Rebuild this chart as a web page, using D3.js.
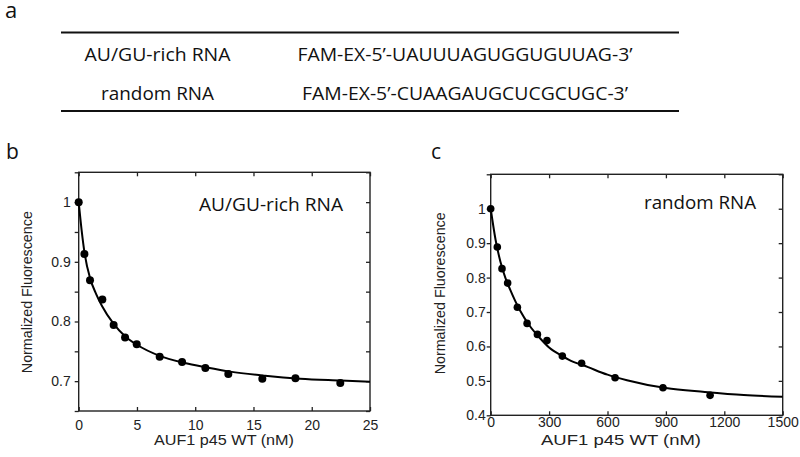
<!DOCTYPE html>
<html lang="en">
<head>
    <meta charset="UTF-8">
    <title>AUF1 p45 binding</title>
    <script src="https://d3js.org/d3.v7.min.js"></script>
    <style>
        body {
            margin: 0;
            padding: 0;
            background: #fff;
        }
        .tick text {
            font-family: "Liberation Sans", Arial, sans-serif;
            font-size: 14px;
            fill: #222;
        }
        .tick line {
            stroke: #222;
            stroke-width: 1.3;
        }
        .calib {
            font-family: "Open Sans", "Noto Sans", sans-serif;
            fill: #111;
        }
        .arial {
            font-family: "Liberation Sans", Arial, sans-serif;
            fill: #222;
        }
    </style>
</head>
<body>
    <div id="chart"></div>
    <script>
        // Table (panel a)
        const rnaNames = ["AU/GU-rich RNA", "random RNA"];
        const rnaSeqs = ["FAM-EX-5’-UAUUUAGUGGUGUUAG-3’", "FAM-EX-5’-CUAAGAUGCUCGCUGC-3’"];

        // Panel b: AU/GU-rich RNA
        const auguConc = [0, 0.49, 0.97, 2.03, 3.0, 3.98, 4.98, 6.95, 8.87, 10.87, 12.84, 15.76, 18.6, 22.45];
        const auguFluor = [1.0, 0.913, 0.869, 0.837, 0.794, 0.773, 0.762, 0.741, 0.732, 0.722, 0.712, 0.704, 0.705, 0.697];
        const auguFitX = [0, 0.25, 0.5, 1, 1.5, 2, 3, 4, 5, 7, 9, 11, 13, 16, 19, 22.5, 25];
        const auguFitY = [1.0, 0.953, 0.915, 0.871, 0.846, 0.826, 0.796, 0.775, 0.761, 0.742, 0.731, 0.723, 0.716, 0.709, 0.704, 0.701, 0.699];
        const auguYTicks = [0.65, 0.7, 0.75, 0.8, 0.85, 0.9, 0.95, 1.0, 1.05];
        const auguYLabels = [0.7, 0.8, 0.9, 1];
        const auguXTicks = [0, 5, 10, 15, 20, 25];

        // Panel c: random RNA
        const randConc = [0, 34, 58, 87, 137, 187, 240, 289, 368, 467, 639, 885, 1127];
        const randFluor = [1.0, 0.889, 0.826, 0.784, 0.714, 0.667, 0.635, 0.617, 0.572, 0.551, 0.509, 0.480, 0.458];
        const randFitX = [0, 25, 50, 75, 100, 150, 200, 250, 300, 368, 400, 500, 600, 700, 900, 1100, 1300, 1500];
        const randFitY = [1.0, 0.91, 0.846, 0.80, 0.765, 0.705, 0.66, 0.626, 0.597, 0.572, 0.562, 0.540, 0.518, 0.502, 0.479, 0.468, 0.459, 0.454];
        const randYTicks = [0.4, 0.5, 0.6, 0.7, 0.8, 0.9, 1.0, 1.1];
        const randYLabels = [0.4, 0.5, 0.6, 0.7, 0.8, 0.9, 1];
        const randXTicks = [0, 300, 600, 900, 1200, 1500];

        const width = 800;
        const height = 457;

        const svg = d3.select("#chart")
            .append("svg")
            .attr("width", width)
            .attr("height", height);

        // ---- panel a ----
        svg.append("text").attr("class", "calib")
            .attr("x", 5).attr("y", 18)
            .attr("font-size", 22)
            .text("a");

        [32.5, 111].forEach(y => {
            svg.append("line")
                .attr("x1", 61).attr("x2", 679)
                .attr("y1", y).attr("y2", y)
                .attr("stroke", "#111")
                .attr("stroke-width", 2);
        });

        const rowY = [61, 100];
        const nameW = [146, 113];
        const seqW = [335, 326];
        rnaNames.forEach((name, i) => {
            svg.append("text").attr("class", "calib")
                .attr("x", 157.5).attr("y", rowY[i])
                .attr("font-size", 18)
                .attr("text-anchor", "middle")
                .attr("textLength", nameW[i])
                .attr("lengthAdjust", "spacingAndGlyphs")
                .text(name);
            svg.append("text").attr("class", "calib")
                .attr("x", 465).attr("y", rowY[i])
                .attr("font-size", 18)
                .attr("text-anchor", "middle")
                .attr("textLength", seqW[i])
                .attr("lengthAdjust", "spacingAndGlyphs")
                .text(rnaSeqs[i]);
        });

        // ---- panels b and c ----
        function drawPanel(cfg) {
            const x = d3.scaleLinear().domain(cfg.xDomain).range([cfg.left, cfg.right]);
            const y = d3.scaleLinear().domain(cfg.yDomain).range([cfg.bottom, cfg.top]);
            const g = svg.append("g");
            const fmt = d => d === 1 ? "1" : d3.format(".1f")(d);

            // left axis, ticks outward
            const left = g.append("g")
                .attr("transform", `translate(${cfg.left},0)`)
                .call(d3.axisLeft(y).tickValues(cfg.yTicks).tickSizeInner(4).tickSizeOuter(0)
                    .tickPadding(cfg.yPad)
                    .tickFormat(d => cfg.yLabels.some(v => Math.abs(v - d) < 1e-9) ? fmt(d) : ""));
            left.select(".domain").remove();

            // right axis, ticks inward
            g.append("g")
                .attr("transform", `translate(${cfg.right},0)`)
                .call(d3.axisRight(y).tickValues(cfg.yTicks).tickSizeInner(-4).tickSizeOuter(0).tickFormat(""))
                .select(".domain").remove();

            // top axis, ticks inward
            g.append("g")
                .attr("transform", `translate(0,${cfg.top})`)
                .call(d3.axisTop(x).tickValues(cfg.xTicks).tickSizeInner(-4).tickSizeOuter(0).tickFormat(""))
                .select(".domain").remove();

            // bottom axis, ticks inward
            const bottom = g.append("g")
                .attr("transform", `translate(0,${cfg.bottom})`)
                .call(d3.axisBottom(x).tickValues(cfg.xTicks).tickSizeInner(-4).tickSizeOuter(0)
                    .tickPadding(cfg.xPad).tickFormat(d3.format("d")));
            bottom.select(".domain").remove();

            // frame
            g.append("rect")
                .attr("x", cfg.left).attr("y", cfg.top)
                .attr("width", cfg.right - cfg.left)
                .attr("height", cfg.bottom - cfg.top)
                .attr("fill", "none")
                .attr("stroke", "#222")
                .attr("stroke-width", 1.4);

            // fit curve
            const line = d3.line()
                .x(d => x(d[0]))
                .y(d => y(d[1]))
                .curve(d3.curveMonotoneX);
            g.append("path")
                .datum(cfg.fitX.map((v, i) => [v, cfg.fitY[i]]))
                .attr("d", line)
                .attr("fill", "none")
                .attr("stroke", "#000")
                .attr("stroke-width", 2);

            // points
            g.selectAll(".pt")
                .data(cfg.conc.map((v, i) => [v, cfg.fluor[i]]))
                .enter()
                .append("circle")
                .attr("class", "pt")
                .attr("cx", d => x(d[0]))
                .attr("cy", d => y(d[1]))
                .attr("r", cfg.r)
                .attr("fill", "#000");

            // labels
            g.append("text").attr("class", "calib")
                .attr("x", cfg.labelX).attr("y", cfg.labelY)
                .attr("font-size", 18)
                .attr("textLength", cfg.labelW)
                .attr("lengthAdjust", "spacingAndGlyphs")
                .text(cfg.label);

            g.append("text").attr("class", "arial")
                .attr("transform", `translate(${cfg.yTitleX},${(cfg.top + cfg.bottom) / 2 + cfg.yTitleShift}) rotate(-90)`)
                .attr("text-anchor", "middle")
                .attr("font-size", 14)
                .attr("textLength", 162)
                .attr("lengthAdjust", "spacingAndGlyphs")
                .text("Normalized Fluorescence");

            g.append("text").attr("class", "arial")
                .attr("x", cfg.xTitleX).attr("y", cfg.xTitleY)
                .attr("text-anchor", "middle")
                .attr("font-size", cfg.xTitleSize)
                .attr("textLength", cfg.xTitleW)
                .attr("lengthAdjust", "spacingAndGlyphs")
                .text("AUF1 p45 WT (nM)");

            g.append("text").attr("class", "calib")
                .attr("x", cfg.tagX).attr("y", cfg.tagY)
                .attr("font-size", 21)
                .text(cfg.tag);
        }

        drawPanel({
            left: 78.7, right: 370, top: 172.3, bottom: 411,
            xDomain: [0, 25], yDomain: [0.65, 1.05],
            xTicks: auguXTicks, yTicks: auguYTicks, yLabels: auguYLabels,
            yPad: 4, xPad: 9,
            conc: auguConc, fluor: auguFluor, fitX: auguFitX, fitY: auguFitY, r: 4,
            label: "AU/GU-rich RNA", labelX: 199, labelY: 210.5, labelW: 144,
            yTitleX: 32, yTitleShift: 0.5,
            xTitleX: 224, xTitleY: 445, xTitleSize: 14, xTitleW: 140,
            tag: "b", tagX: 6, tagY: 159
        });

        drawPanel({
            left: 490.7, right: 782.7, top: 174.3, bottom: 415.3,
            xDomain: [0, 1500], yDomain: [0.4, 1.1],
            xTicks: randXTicks, yTicks: randYTicks, yLabels: randYLabels,
            yPad: 1, xPad: 2,
            conc: randConc, fluor: randFluor, fitX: randFitX, fitY: randFitY, r: 3.8,
            label: "random RNA", labelX: 644, labelY: 209, labelW: 112,
            yTitleX: 445, yTitleShift: -1.5,
            xTitleX: 621, xTitleY: 445, xTitleSize: 15.5, xTitleW: 160,
            tag: "c", tagX: 431, tagY: 158.5
        });
    </script>
</body>
</html>
